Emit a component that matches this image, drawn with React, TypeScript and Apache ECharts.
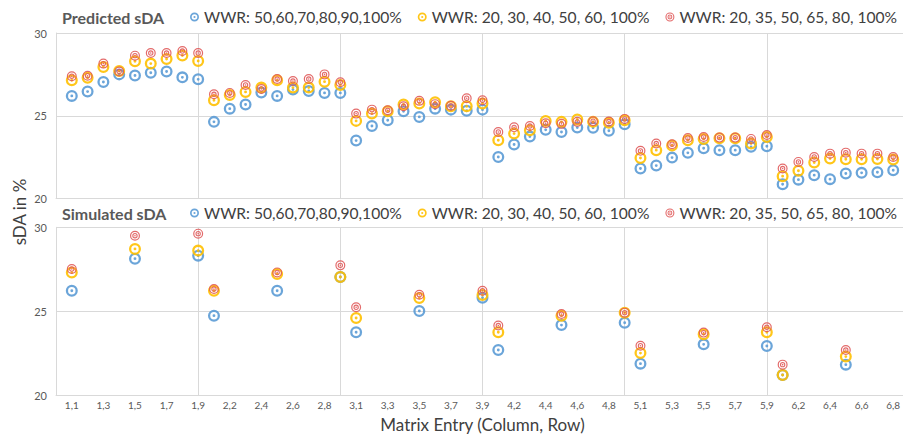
import React, { useEffect, useRef } from 'react';
import * as echarts from 'echarts';

const categories = [
  '',
  '1,1', '1,2', '1,3', '1,4', '1,5', '1,6', '1,7', '1,8', '1,9',
  '2,1', '2,2', '2,3', '2,4', '2,5', '2,6', '2,7', '2,8', '2,9',
  '3,1', '3,2', '3,3', '3,4', '3,5', '3,6', '3,7', '3,8', '3,9',
  '4,1', '4,2', '4,3', '4,4', '4,5', '4,6', '4,7', '4,8', '4,9',
  '5,1', '5,2', '5,3', '5,4', '5,5', '5,6', '5,7', '5,8', '5,9',
  '6,1', '6,2', '6,3', '6,4', '6,5', '6,6', '6,7', '6,8', '6,9',
];

const seriesNames = [
  'WWR: 50,60,70,80,90,100%',
  'WWR: 20, 30, 40, 50, 60, 100%',
  'WWR: 20, 35, 50, 65, 80, 100%',
];

// Predicted sDA, entries 1,1 ... 6,8
const predEntries = categories.slice(1, 54);
const predBlue = [
  26.2, 26.46, 27.04, 27.5, 27.43, 27.6, 27.67, 27.32, 27.2,
  24.63, 25.43, 25.68, 26.41, 26.2, 26.58, 26.5, 26.38, 26.38,
  23.5, 24.38, 24.73, 25.27, 24.93, 25.43, 25.37, 25.3, 25.37,
  22.51, 23.26, 23.74, 24.15, 24.02, 24.29, 24.27, 24.09, 24.49,
  21.81, 21.99, 22.47, 22.76, 23.04, 22.92, 22.92, 23.12, 23.16,
  20.86, 21.14, 21.41, 21.17, 21.51, 21.55, 21.59, 21.71,
];
const predYellow = [
  27.14, 27.3, 27.95, 27.7, 28.29, 28.15, 28.43, 28.64, 28.31,
  25.94, 26.26, 26.44, 26.7, 27.14, 26.7, 26.7, 27.06, 26.86,
  24.69, 25.13, 25.27, 25.68, 25.74, 25.82, 25.57, 25.57, 25.74,
  23.52, 23.92, 24.12, 24.69, 24.63, 24.77, 24.63, 24.57, 24.73,
  22.45, 22.92, 23.2, 23.52, 23.6, 23.64, 23.64, 23.32, 23.72,
  21.35, 21.68, 22.17, 22.41, 22.37, 22.37, 22.39, 22.35,
];
const predRed = [
  27.39, 27.42, 28.15, 27.67, 28.63, 28.79, 28.79, 28.91, 28.79,
  26.3, 26.38, 26.86, 26.62, 27.22, 27.1, 27.22, 27.5, 27.02,
  25.13, 25.37, 25.33, 25.57, 25.9, 25.7, 25.6, 26.06, 25.94,
  24.02, 24.3, 24.38, 24.55, 24.51, 24.63, 24.67, 24.65, 24.81,
  22.88, 23.32, 23.28, 23.66, 23.72, 23.68, 23.68, 23.6, 23.84,
  21.81, 22.21, 22.51, 22.71, 22.77, 22.71, 22.71, 22.51,
];

// Simulated sDA
const simEntries = ['1,1', '1,5', '1,9', '2,1', '2,5', '2,9', '3,1', '3,5', '3,9', '4,1', '4,5', '4,9', '5,1', '5,5', '5,9', '6,1', '6,5'];
const simBlue = [26.22, 28.13, 28.31, 24.73, 26.22, 27.04, 23.74, 25.01, 25.8, 22.68, 24.17, 24.31, 21.87, 23.02, 22.92, 21.19, 21.81];
const simYellow = [27.3, 28.71, 28.61, 26.22, 27.21, 27.04, 24.59, 25.78, 25.96, 23.74, 24.73, 24.91, 22.5, 23.62, 23.74, 21.19, 22.29];
const simRed = [27.51, 29.5, 29.62, 26.32, 27.31, 27.73, 25.23, 25.98, 26.22, 24.14, 24.83, 24.91, 22.94, 23.72, 24.04, 21.81, 22.68];

const yTicks = { min: 20, max: 30, interval: 5 };

const BLUE = '#5B9BD5';
const YELLOW = '#FFC000';
const RED = '#E05A5A';
const GRID = '#D9D9D9';
const FONT = 'Lato, "Open Sans", sans-serif';

const circ = (r: number, cw: boolean) => {
  const s = cw ? 1 : 0;
  return `M0,${-r}A${r},${r},0,1,${s},0,${r}A${r},${r},0,1,${s},0,${-r}Z`;
};
const ringDot = 'path://' + circ(10, true) + circ(6.2, false) + circ(2.4, true);
const doubleRing = 'path://' + circ(10, true) + circ(7.6, false) + circ(5.4, true) + circ(3.2, false) + circ(1.6, true);

const symbols = [ringDot, ringDot, doubleRing];
const colors = [BLUE, YELLOW, RED];
const sizes = [12, 12, 10];

export default function App() {
  const ref = useRef<HTMLDivElement>(null);
  useEffect(() => {
    if (!ref.current) return;
    const chart = echarts.init(ref.current, undefined, { renderer: 'svg' });

    const makeX = (gridIndex: number) => ({
      type: 'category',
      gridIndex,
      data: categories,
      boundaryGap: false,
      axisLine: { show: true, lineStyle: { color: GRID } },
      axisTick: { show: false },
      axisLabel:
        gridIndex === 1
          ? { show: true, interval: (i: number) => i % 2 === 1, color: '#595959', fontSize: 10, margin: 5, fontFamily: FONT }
          : { show: false },
      splitLine: { show: true, interval: (i: number) => i % 9 === 0, lineStyle: { color: GRID } },
      name: gridIndex === 1 ? 'Matrix Entry (Column, Row)' : '',
      nameLocation: 'middle',
      nameGap: 21,
      nameTextStyle: { fontSize: 17, color: '#404040', fontFamily: FONT },
    });
    const makeY = (gridIndex: number) => ({
      type: 'value',
      gridIndex,
      ...yTicks,
      axisLine: { show: true, lineStyle: { color: GRID } },
      axisTick: { show: false },
      axisLabel: { color: '#595959', fontSize: 11, margin: 9, fontFamily: FONT },
      splitLine: { show: true, lineStyle: { color: GRID } },
    });

    const predData = [predBlue, predYellow, predRed];
    const simData = [simBlue, simYellow, simRed];

    const series: any[] = [];
    predData.forEach((vals, k) => {
      series.push({
        type: 'scatter',
        name: seriesNames[k],
        xAxisIndex: 0,
        yAxisIndex: 0,
        symbol: symbols[k],
        symbolSize: sizes[k],
        itemStyle: { color: colors[k], opacity: 0.9 },
        data: predEntries.map((c, i) => [c, vals[i]]),
      });
    });
    simData.forEach((vals, k) => {
      series.push({
        type: 'scatter',
        name: seriesNames[k],
        xAxisIndex: 1,
        yAxisIndex: 1,
        symbol: symbols[k],
        symbolSize: sizes[k],
        itemStyle: { color: colors[k], opacity: 0.9 },
        data: simEntries.map((c, i) => [c, vals[i]]),
      });
    });

    const legendData = seriesNames.map((n, k) => ({ name: n, icon: symbols[k] }));
    const legendBase = {
      left: 190,
      itemWidth: 9,
      itemHeight: 9,
      itemGap: 16,
      padding: 0,
      selectedMode: false,
      textStyle: { fontSize: 15.6, color: '#404040', fontFamily: FONT },
      data: legendData,
    };

    chart.setOption({
      animation: false,
      backgroundColor: '#ffffff',
      title: [
        { text: 'Predicted sDA', left: 62, top: 9, padding: 0, textStyle: { fontSize: 16, fontWeight: 'bold', color: '#595959', fontFamily: FONT } },
        { text: 'Simulated sDA', left: 62, top: 205, padding: 0, textStyle: { fontSize: 16, fontWeight: 'bold', color: '#595959', fontFamily: FONT } },
      ],
      legend: [
        { ...legendBase, top: 9 },
        { ...legendBase, top: 205 },
      ],
      grid: [
        { left: 56, right: -6, top: 33, height: 165.5, outerBoundsMode: 'none' },
        { left: 56, right: -6, top: 227.3, height: 167.7, outerBoundsMode: 'none' },
      ],
      xAxis: [makeX(0), makeX(1)],
      yAxis: [makeY(0), makeY(1)],
      graphic: [
        {
          type: 'text',
          x: 19,
          y: 212,
          rotation: Math.PI / 2,
          style: {
            text: 'sDA in %',
            fontSize: 17,
            fill: '#404040',
            fontFamily: FONT,
            align: 'center',
            verticalAlign: 'middle',
          },
        },
      ],
      series,
    });
    return () => chart.dispose();
  }, []);

  return (
    <div
      ref={ref}
      style={{ position: 'absolute', left: 0, top: 0, width: 903, height: 438 }}
    />
  );
}
